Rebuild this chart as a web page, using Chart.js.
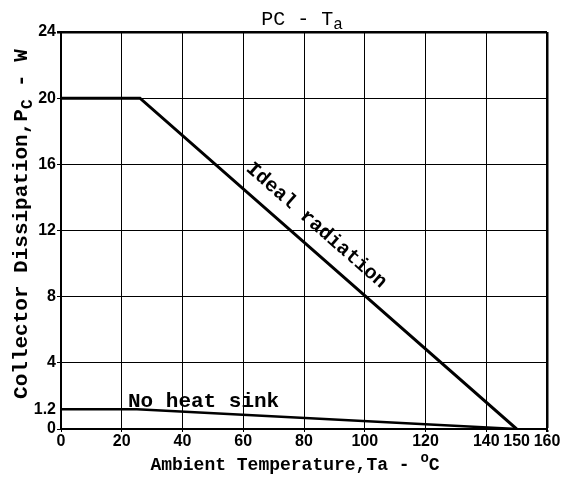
<!DOCTYPE html>
<html>
<head>
<meta charset="utf-8">
<script src="https://cdn.jsdelivr.net/npm/chart.js@4"></script>
<style>
  html, body { margin: 0; padding: 0; background: #fff; }
  #wrap { width: 570px; height: 484px; }
</style>
</head>
<body>
<div id="wrap"><canvas id="pcChart" width="570" height="484"></canvas></div>
<script>
// Pc - Ta derating curves
const tempIdeal = [0, 26, 150];
const powerIdeal = [20, 20, 0];
const tempNoSink = [0, 25, 150];
const powerNoSink = [1.2, 1.2, 0];

const xTicks = [0, 20, 40, 60, 80, 100, 120, 140, 150, 160];
const yTicks = [0, 1.2, 4, 8, 12, 16, 20, 24];
const noGridAt = [1.2, 150];

const MONO = '"Liberation Mono", "DejaVu Sans Mono", monospace';
const TICKFONT = '"Liberation Sans Narrow", "Liberation Sans", Arial, sans-serif';

function toPoints(xs, ys) {
    return xs.map((x, i) => ({ x: x, y: ys[i] }));
}

// draw a run of text pieces: [text, size, shift]
function drawRuns(ctx, runs, weight) {
    let total = 0;
    runs.forEach(r => {
        ctx.font = weight + " " + r[1] + "px " + MONO;
        total += ctx.measureText(r[0]).width;
    });
    let x = -total / 2;
    runs.forEach(r => {
        ctx.font = weight + " " + r[1] + "px " + MONO;
        ctx.fillText(r[0], x, r[2]);
        x += ctx.measureText(r[0]).width;
    });
}

const labelsPlugin = {
    id: "labelsPlugin",
    afterDraw(chart) {
        const ctx = chart.ctx;
        const xs = chart.scales.x, ys = chart.scales.y;
        ctx.save();
        ctx.fillStyle = "#000";
        ctx.textBaseline = "alphabetic";
        ctx.textAlign = "left";

        // title
        ctx.save();
        ctx.translate(302, 25);
        drawRuns(ctx, [["PC - T", 20, 0], ["a", 16, 4]], "normal");
        ctx.restore();

        // x axis title
        ctx.save();
        ctx.translate(295, 470);
        drawRuns(ctx, [["Ambient Temperature,Ta - ", 18, 0], ["o", 14, -8], ["C", 18, 0]], "bold");
        ctx.restore();

        // y axis title
        ctx.save();
        ctx.translate(27, 224);
        ctx.rotate(-Math.PI / 2);
        drawRuns(ctx, [["Collector Dissipation,P", 21, 0], ["C", 16, 5], [" - W", 21, 0]], "bold");
        ctx.restore();

        // curve labels
        const p1 = { x: xs.getPixelForValue(tempIdeal[1]), y: ys.getPixelForValue(powerIdeal[1]) };
        const p2 = { x: xs.getPixelForValue(tempIdeal[2]), y: ys.getPixelForValue(powerIdeal[2]) };
        const ang = Math.atan2(p2.y - p1.y, p2.x - p1.x);
        ctx.save();
        ctx.translate(xs.getPixelForValue(84), ys.getPixelForValue(12.3));
        ctx.rotate(ang);
        ctx.textBaseline = "middle";
        drawRuns(ctx, [["Ideal radiation", 20, 0]], "bold");
        ctx.restore();

        ctx.font = "bold 21px " + MONO;
        ctx.textBaseline = "alphabetic";
        ctx.fillText("No heat sink", 128, 407);
        ctx.restore();
    }
};

const ctx = document.getElementById("pcChart").getContext("2d");
new Chart(ctx, {
    type: "line",
    data: {
        datasets: [{
            label: "Ideal radiation",
            data: toPoints(tempIdeal, powerIdeal),
            borderColor: "#000",
            borderWidth: 3,
            pointRadius: 0,
            tension: 0
        }, {
            label: "No heat sink",
            data: toPoints(tempNoSink, powerNoSink),
            borderColor: "#000",
            borderWidth: 2.5,
            pointRadius: 0,
            tension: 0
        }]
    },
    options: {
        responsive: false,
        animation: false,
        layout: { padding: { top: 32, right: 23, left: 0, bottom: 0 } },
        plugins: {
            legend: { display: false },
            tooltip: { enabled: false },
            title: { display: false }
        },
        scales: {
            x: {
                type: "linear",
                min: 0,
                max: 160,
                afterFit(scale) { scale.height = 55; },
                afterBuildTicks(scale) { scale.ticks = xTicks.map(v => ({ value: v })); },
                border: { display: true, color: "#000", width: 2 },
                grid: {
                    color: c => noGridAt.includes(c.tick.value) ? "rgba(0,0,0,0)" : "#000",
                    lineWidth: c => c.tick.value === 160 ? 2.5 : 1,
                    drawTicks: true,
                    tickLength: 3
                },
                ticks: {
                    color: "#000",
                    padding: 0,
                    maxRotation: 0,
                    autoSkip: false,
                    font: { family: TICKFONT, size: 16, weight: "bold" },
                    callback: v => String(v)
                }
            },
            y: {
                type: "linear",
                min: 0,
                max: 24,
                afterFit(scale) { scale.width = 61; },
                afterBuildTicks(scale) { scale.ticks = yTicks.map(v => ({ value: v })); },
                border: { display: true, color: "#000", width: 2 },
                grid: {
                    color: c => noGridAt.includes(c.tick.value) ? "rgba(0,0,0,0)" : "#000",
                    lineWidth: c => c.tick.value === 24 ? 2.5 : 1,
                    drawTicks: true,
                    tickLength: 4
                },
                ticks: {
                    color: "#000",
                    padding: 1,
                    autoSkip: false,
                    font: { family: TICKFONT, size: 16, weight: "bold" },
                    callback: v => String(v)
                }
            }
        }
    },
    plugins: [labelsPlugin]
});
</script>
</body>
</html>
